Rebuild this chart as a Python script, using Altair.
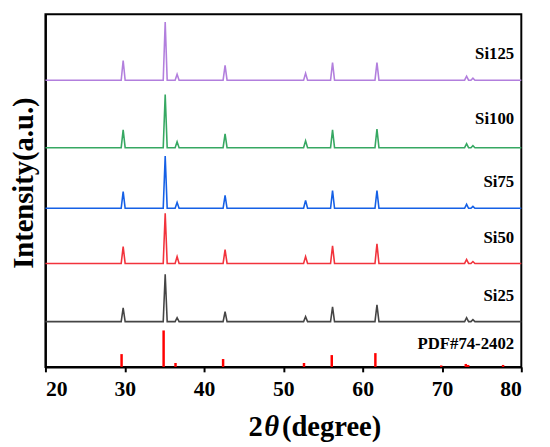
import altair as alt
import pandas as pd

# ---- data (arbitrary intensity units) ----
peak_2theta = [29.8, 35.1, 36.6, 42.65, 52.8, 56.2, 61.8, 73.1, 73.9]
series_names = ["Si25", "Si50", "Si75", "Si100", "Si125"]
series_colors = ["#454545", "#F2333C", "#1560E6", "#36A862", "#B27FDD"]
series_baseline = [46, 105, 161, 222.5, 291]
si25_heights = [14, 48, 4, 10, 5, 15, 17, 4, 2]
si50_heights = [17, 51, 7, 14, 7, 18, 20, 4, 2]
si75_heights = [17, 53, 6, 13, 8, 18, 18, 4, 2]
si100_heights = [18, 54, 6, 14, 7, 18, 19, 4, 2]
si125_heights = [20, 59, 6, 15, 7, 18, 18, 4, 2]
pdf_2theta = [29.6, 34.9, 36.4, 42.4, 52.6, 56.1, 61.6, 69.9, 73.0, 73.3, 77.7]
pdf_heights = [13, 37, 4, 8, 4, 12, 14, 1.5, 3, 2, 2]
label_names = ["Si25", "Si50", "Si75", "Si100", "Si125", "PDF#74-2402"]
label_y = [72.3, 130.7, 187.3, 252, 317.3, 23.3]
x_ticks = [20, 30, 40, 50, 60, 70, 80]

heights = [si25_heights, si50_heights, si75_heights, si100_heights, si125_heights]
half = 0.25
rows = []
for name, base, hs in zip(series_names, series_baseline, heights):
    rows.append({"series": name, "x": 20, "y": base})
    for p, h in zip(peak_2theta, hs):
        rows.append({"series": name, "x": p - half, "y": base})
        rows.append({"series": name, "x": p, "y": base + h})
        rows.append({"series": name, "x": p + half, "y": base})
    rows.append({"series": name, "x": 80, "y": base})
df = pd.DataFrame(rows)
pdf = pd.DataFrame({"x": pdf_2theta, "h": pdf_heights, "z": [0] * len(pdf_2theta)})
labels = pd.DataFrame({"name": label_names, "y": label_y, "x": [79.1] * len(label_names)})

FONT = "Liberation Serif"
xs = alt.Scale(domain=[20, 80], nice=False)
ys = alt.Scale(domain=[0, 358], nice=False)

lines = alt.Chart(df).mark_line(strokeWidth=1.6).encode(
    x=alt.X("x:Q", scale=xs,
            axis=alt.Axis(title="", values=x_ticks, labelFont=FONT, labelFontSize=22,
                          labelFontWeight="bold", labelColor="black", labelPadding=7,
                          tickColor="black", tickWidth=2, tickSize=5,
                          domainColor="black", domainWidth=2, grid=False)),
    y=alt.Y("y:Q", scale=ys,
            axis=alt.Axis(title="", ticks=False, labels=False, domainColor="black",
                          domainWidth=2, grid=False)),
    color=alt.Color("series:N", scale=alt.Scale(domain=series_names, range=series_colors),
                    legend=None),
)

sticks = alt.Chart(pdf).mark_rule(color="#FF0000", strokeWidth=2.5).encode(
    x=alt.X("x:Q", scale=xs), y=alt.Y("z:Q", scale=ys), y2="h:Q"
)

texts = alt.Chart(labels).mark_text(font=FONT, fontSize=17, fontWeight="bold",
                                    align="right", baseline="middle", color="black").encode(
    x=alt.X("x:Q", scale=xs), y=alt.Y("y:Q", scale=ys), text="name:N"
)

one = pd.DataFrame({"a": [0]})
t2 = alt.Chart(one).mark_text(text="2", font=FONT, fontSize=29, fontWeight="bold",
                              align="left", baseline="alphabetic", color="black").encode(
    x=alt.value(206), y=alt.value(428))
tth = alt.Chart(one).mark_text(text="\u03b8", font=FONT, fontSize=29, fontWeight="bold",
                               fontStyle="italic", align="left", baseline="alphabetic",
                               color="black").encode(x=alt.value(222), y=alt.value(428))
tdeg = alt.Chart(one).mark_text(text="(degree)", font=FONT, fontSize=29, fontWeight="bold",
                                align="left", baseline="alphabetic", color="black").encode(
    x=alt.value(240), y=alt.value(428))
ytitle = alt.Chart(one).mark_text(text="Intensity(a.u.)", font=FONT, fontSize=29,
                                  fontWeight="bold", angle=270, align="center",
                                  baseline="middle", color="black").encode(
    x=alt.value(-22), y=alt.value(171.5))

chart = alt.layer(lines, sticks, texts, t2, tth, tdeg, ytitle).properties(
    width=483, height=358,
    autosize=alt.AutoSizeParams(type="none"),
    padding={"left": 38, "top": 3, "right": 21, "bottom": 78},
).configure_view(stroke="black", strokeWidth=2)

chart.save("out.html", embed_options={"renderer": "svg", "actions": False})
